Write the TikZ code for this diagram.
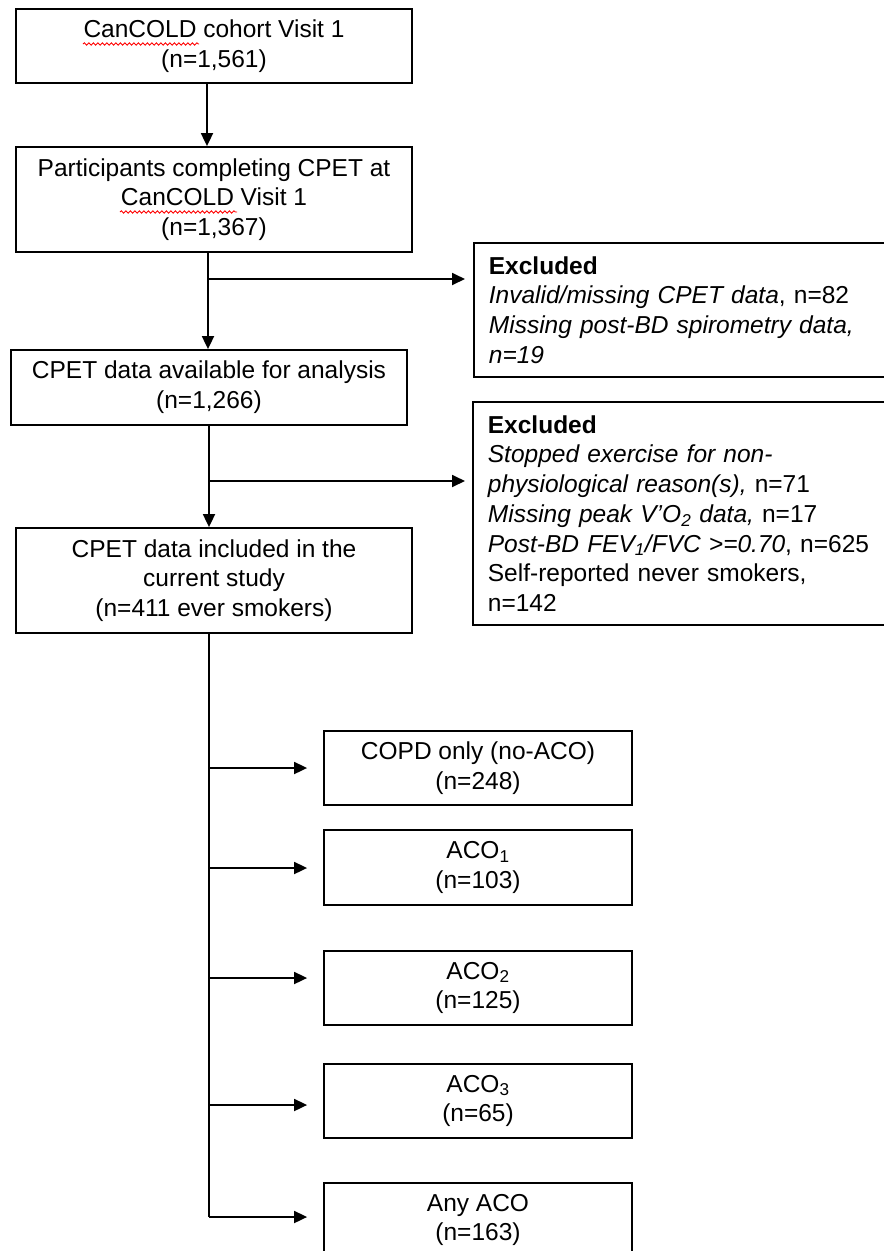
\documentclass[tikz,border=0pt]{standalone}
\usepackage{fontspec}
\setmainfont{Liberation Sans}
\usetikzlibrary{arrows.meta,decorations.pathmorphing}
\begin{document}
\begin{tikzpicture}[x=1pt,y=-1pt,
  txt/.style={font=\fontsize{24.5}{29.7}\selectfont},
  box/.style={txt, draw, line width=1.8pt, rectangle, inner sep=0pt, align=center},
  exbox/.style={txt, draw, line width=1.8pt, rectangle, inner xsep=15pt, inner ysep=0pt, text width=497pt, align=left, anchor=west},
  arr/.style={line width=1.8pt, -{Triangle[length=13pt,width=12pt]}},
  conn/.style={line width=1.8pt},
  squiggle/.style={red, line width=0.9pt, decorate, decoration={snake, amplitude=1.2pt, segment length=4.5pt}}
]
\useasboundingbox (0,0) rectangle (884,1251);
\clip (0,0) rectangle (884,1251);
\fill[white] (0,0) rectangle (884,1251);

% main column
\node[box, minimum width=396pt, minimum height=74pt] (b1) at (214,46) {CanCOLD cohort Visit 1\\(n=1,561)};
\node[box, minimum width=396pt, minimum height=105pt] (b2) at (214,199.5) {Participants completing CPET at\\CanCOLD Visit 1\\(n=1,367)};
\node[box, minimum width=396pt, minimum height=75pt] (b3) at (209,387.5) {CPET data available for analysis\\(n=1,266)};
\node[box, minimum width=396pt, minimum height=105pt] (b4) at (214,580.5) {CPET data included in the\\current study\\(n=411 ever smokers)};

% exclusion boxes
\node[exbox, minimum height=134pt] (e1) at (473,310) {\textbf{Excluded}\\\textit{Invalid/missing CPET data}, n=82\\\textit{Missing post-BD spirometry data,}\\\textit{n=19}};
\node[exbox, minimum height=223pt] (e2) at (472,513.5) {\textbf{Excluded}\\\textit{Stopped exercise for non-}\\\textit{physiological reason(s),} n=71\\\textit{Missing peak V’O\textsubscript{2} data,} n=17\\\textit{Post-BD FEV\textsubscript{1}/FVC >=0.70}, n=625\\Self-reported never smokers,\\n=142};

% group boxes
\node[box, minimum width=308pt, minimum height=74pt] (c1) at (478,768) {COPD only (no-ACO)\\(n=248)};
\node[box, minimum width=308pt, minimum height=75pt] (c2) at (478,867.5) {ACO\textsubscript{1}\\(n=103)};
\node[box, minimum width=308pt, minimum height=74pt] (c3) at (478,988) {ACO\textsubscript{2}\\(n=125)};
\node[box, minimum width=308pt, minimum height=74pt] (c4) at (478,1101) {ACO\textsubscript{3}\\(n=65)};
\node[box, minimum width=308pt, minimum height=74pt] (c5) at (478,1220) {Any ACO\\(n=163)};

% spell-check squiggles
\draw[squiggle] (83,44) -- (199,44);
\draw[squiggle] (120,212) -- (237,212);

% trunk coordinates
\coordinate (t1) at (207,0);
\coordinate (t2) at (208,0);
\coordinate (t3) at (209,0);
\coordinate (j1) at (208,279);
\coordinate (j2) at (209,481);
\coordinate (k1) at (209,768);
\coordinate (k2) at (209,868);
\coordinate (k3) at (209,978);
\coordinate (k4) at (209,1105);
\coordinate (k5) at (209,1217);

% connectors
\draw[arr] (b1.south -| t1) -- (b2.north -| t1);
\draw[arr] (b2.south -| t2) -- (b3.north -| t2);
\draw[arr, shorten >=8pt] (j1) -- (j1 -| e1.west);
\draw[arr] (b3.south -| t3) -- (b4.north -| t3);
\draw[arr, shorten >=7pt] (j2) -- (j2 -| e2.west);
\draw[conn] (b4.south -| t3) -- (k5);
\draw[arr, shorten >=16pt] (k1) -- (k1 -| c1.west);
\draw[arr, shorten >=16pt] (k2) -- (k2 -| c2.west);
\draw[arr, shorten >=16pt] (k3) -- (k3 -| c3.west);
\draw[arr, shorten >=16pt] (k4) -- (k4 -| c4.west);
\draw[arr, shorten >=16pt] (k5) -- (k5 -| c5.west);
\end{tikzpicture}
\end{document}
